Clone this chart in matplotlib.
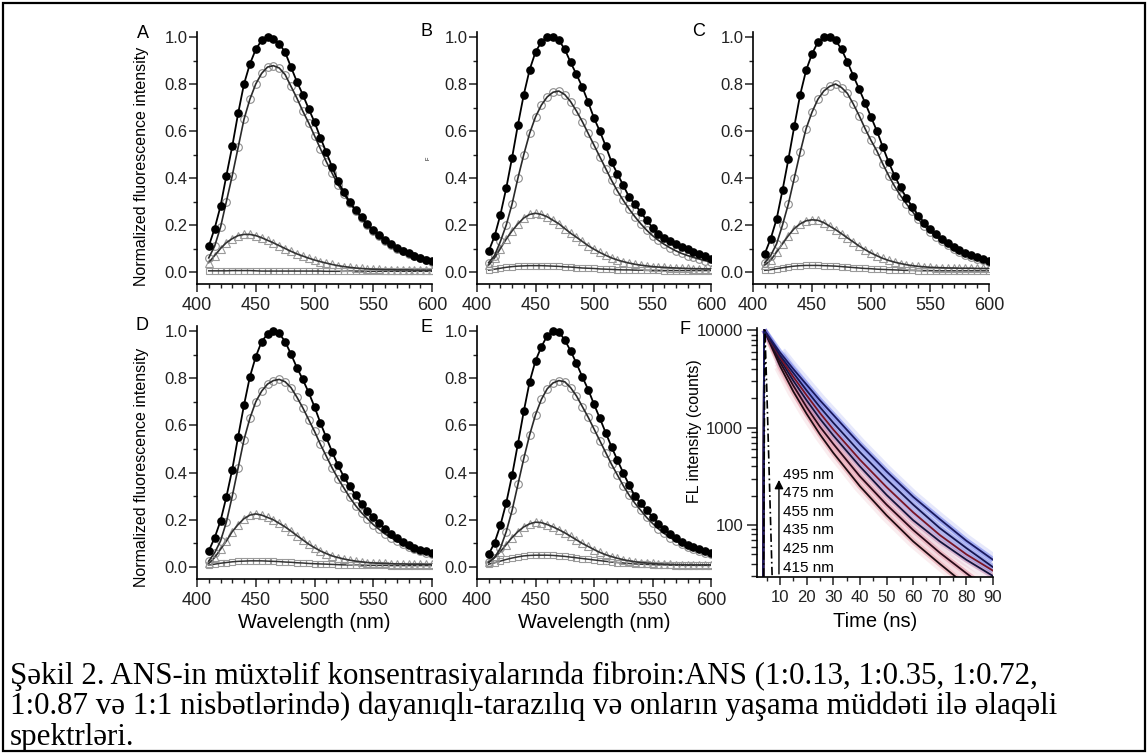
import numpy as np
import matplotlib
matplotlib.use("Agg")
import matplotlib.pyplot as plt
from matplotlib.ticker import MultipleLocator, FixedLocator, FixedFormatter, NullFormatter
from matplotlib.patches import Rectangle

W, H = 1147, 753

# ---- steady-state spectra (normalized), 410..600 nm every 5 nm ----
wavelength = np.arange(410, 601, 5)

a_filled = [0.11, 0.185, 0.28, 0.41, 0.535, 0.675, 0.80, 0.885, 0.947, 0.986, 1.00, 0.993, 0.972, 0.935, 0.872, 0.81, 0.755, 0.695, 0.638, 0.572,
            0.51, 0.447, 0.386, 0.34, 0.298, 0.265, 0.234, 0.203, 0.177, 0.158, 0.138, 0.12, 0.102, 0.09, 0.079, 0.069, 0.06, 0.052, 0.045]
a_open = [0.06, 0.11, 0.19, 0.30, 0.41, 0.53, 0.65, 0.735, 0.80, 0.845, 0.872, 0.878, 0.868, 0.84, 0.79, 0.74, 0.685, 0.635, 0.58, 0.525,
          0.47, 0.42, 0.372, 0.332, 0.293, 0.26, 0.23, 0.2, 0.174, 0.153, 0.133, 0.115, 0.1, 0.088, 0.077, 0.067, 0.058, 0.05, 0.044]
a_tri = [0.04, 0.07, 0.10, 0.125, 0.142, 0.155, 0.16, 0.16, 0.155, 0.146, 0.135, 0.124, 0.112, 0.10, 0.088, 0.077, 0.068, 0.059, 0.051, 0.044,
         0.038, 0.032, 0.027, 0.023, 0.02, 0.017, 0.015, 0.013, 0.012, 0.011, 0.01, 0.01, 0.009, 0.009, 0.009, 0.008, 0.008, 0.008, 0.008]
a_sq = [0.005, 0.005, 0.005, 0.005, 0.006, 0.006, 0.006, 0.006, 0.005, 0.004, 0.004, 0.004, 0.004, 0.004, 0.004, 0.004, 0.004, 0.004, 0.004, 0.004,
        0.003, 0.003, 0.003, 0.003, 0.004, 0.004, 0.004, 0.003, 0.003, 0.003, 0.003, 0.003, 0.003, 0.003, 0.003, 0.003, 0.003, 0.003, 0.003]

b_filled = [0.089, 0.152, 0.244, 0.357, 0.487, 0.627, 0.755, 0.861, 0.936, 0.979, 1.0, 1.0, 0.986, 0.948, 0.892, 0.841, 0.787, 0.723, 0.655, 0.599,
            0.536, 0.468, 0.418, 0.369, 0.319, 0.288, 0.254, 0.220, 0.189, 0.163, 0.145, 0.132, 0.118, 0.106, 0.096, 0.085, 0.075, 0.067, 0.057]
b_open = [0.04, 0.07, 0.13, 0.20, 0.29, 0.40, 0.50, 0.59, 0.66, 0.71, 0.745, 0.765, 0.77, 0.755, 0.725, 0.685, 0.64, 0.59, 0.54, 0.49,
          0.44, 0.39, 0.345, 0.305, 0.268, 0.235, 0.205, 0.178, 0.155, 0.135, 0.118, 0.103, 0.09, 0.079, 0.07, 0.062, 0.055, 0.048, 0.043]
b_tri = [0.03, 0.06, 0.10, 0.14, 0.175, 0.205, 0.23, 0.245, 0.25, 0.245, 0.235, 0.22, 0.205, 0.185, 0.165, 0.148, 0.13, 0.112, 0.097, 0.083,
         0.071, 0.06, 0.051, 0.044, 0.038, 0.033, 0.029, 0.026, 0.023, 0.021, 0.02, 0.018, 0.017, 0.016, 0.015, 0.014, 0.014, 0.013, 0.013]
b_sq = [0.008, 0.012, 0.016, 0.02, 0.023, 0.025, 0.026, 0.027, 0.027, 0.027, 0.026, 0.025, 0.024, 0.022, 0.021, 0.019, 0.017, 0.016, 0.015, 0.013,
        0.012, 0.011, 0.01, 0.009, 0.009, 0.008, 0.008, 0.007, 0.007, 0.007, 0.006, 0.006, 0.006, 0.006, 0.006, 0.006, 0.006, 0.006, 0.006]

c_filled = [0.078, 0.142, 0.225, 0.348, 0.48, 0.62, 0.755, 0.858, 0.928, 0.978, 0.998, 1.0, 0.986, 0.948, 0.894, 0.835, 0.778, 0.72, 0.66, 0.6,
            0.532, 0.467, 0.41, 0.36, 0.315, 0.277, 0.24, 0.21, 0.184, 0.163, 0.14, 0.122, 0.106, 0.093, 0.082, 0.071, 0.062, 0.054, 0.047]
c_open = [0.04, 0.07, 0.12, 0.20, 0.29, 0.40, 0.51, 0.61, 0.68, 0.735, 0.77, 0.79, 0.80, 0.785, 0.76, 0.715, 0.665, 0.61, 0.56, 0.515,
          0.46, 0.41, 0.365, 0.325, 0.29, 0.258, 0.225, 0.197, 0.172, 0.151, 0.13, 0.113, 0.098, 0.085, 0.074, 0.064, 0.056, 0.049, 0.043]
c_tri = [0.03, 0.05, 0.085, 0.12, 0.155, 0.185, 0.205, 0.218, 0.222, 0.22, 0.21, 0.195, 0.18, 0.163, 0.145, 0.128, 0.11, 0.095, 0.081, 0.069,
         0.058, 0.049, 0.042, 0.036, 0.031, 0.027, 0.024, 0.022, 0.02, 0.019, 0.018, 0.017, 0.017, 0.016, 0.016, 0.016, 0.015, 0.015, 0.015]
c_sq = [0.007, 0.01, 0.014, 0.018, 0.022, 0.025, 0.027, 0.028, 0.028, 0.028, 0.027, 0.026, 0.025, 0.023, 0.021, 0.019, 0.017, 0.015, 0.014, 0.012,
        0.011, 0.01, 0.009, 0.008, 0.007, 0.007, 0.006, 0.006, 0.006, 0.005, 0.005, 0.005, 0.005, 0.005, 0.005, 0.005, 0.005, 0.005, 0.005]

d_filled = [0.068, 0.124, 0.195, 0.297, 0.413, 0.552, 0.686, 0.806, 0.891, 0.955, 0.987, 1.0, 0.99, 0.955, 0.902, 0.845, 0.795, 0.74, 0.679, 0.611,
            0.549, 0.488, 0.431, 0.382, 0.342, 0.304, 0.269, 0.238, 0.212, 0.187, 0.16, 0.14, 0.122, 0.106, 0.093, 0.082, 0.073, 0.066, 0.06]
d_open = [0.025, 0.06, 0.11, 0.19, 0.30, 0.42, 0.54, 0.63, 0.70, 0.745, 0.775, 0.79, 0.795, 0.785, 0.76, 0.72, 0.675, 0.625, 0.575, 0.52,
          0.47, 0.42, 0.375, 0.335, 0.295, 0.26, 0.23, 0.205, 0.18, 0.16, 0.14, 0.125, 0.11, 0.097, 0.086, 0.076, 0.068, 0.06, 0.055]
d_tri = [0.015, 0.04, 0.075, 0.11, 0.15, 0.18, 0.205, 0.22, 0.225, 0.22, 0.21, 0.2, 0.185, 0.17, 0.152, 0.133, 0.115, 0.097, 0.082, 0.068,
         0.057, 0.047, 0.04, 0.034, 0.029, 0.025, 0.022, 0.019, 0.017, 0.016, 0.015, 0.014, 0.013, 0.013, 0.012, 0.012, 0.012, 0.011, 0.011]
d_sq = [0.008, 0.012, 0.016, 0.019, 0.022, 0.024, 0.025, 0.026, 0.026, 0.026, 0.025, 0.024, 0.023, 0.021, 0.02, 0.018, 0.017, 0.015, 0.014, 0.013,
        0.012, 0.011, 0.01, 0.009, 0.009, 0.008, 0.008, 0.007, 0.007, 0.007, 0.007, 0.006, 0.006, 0.006, 0.006, 0.006, 0.006, 0.006, 0.006]

e_filled = [0.054, 0.103, 0.177, 0.272, 0.389, 0.523, 0.66, 0.785, 0.874, 0.933, 0.98, 1.0, 0.997, 0.962, 0.916, 0.863, 0.806, 0.752, 0.69, 0.63,
            0.569, 0.509, 0.453, 0.399, 0.347, 0.30, 0.27, 0.24, 0.212, 0.184, 0.163, 0.141, 0.124, 0.106, 0.095, 0.085, 0.075, 0.068, 0.059]
e_open = [0.02, 0.04, 0.08, 0.15, 0.24, 0.35, 0.46, 0.56, 0.645, 0.71, 0.755, 0.78, 0.79, 0.785, 0.76, 0.725, 0.68, 0.635, 0.585, 0.535,
          0.485, 0.435, 0.39, 0.345, 0.305, 0.27, 0.24, 0.21, 0.185, 0.162, 0.142, 0.125, 0.11, 0.097, 0.086, 0.076, 0.068, 0.061, 0.055]
e_tri = [0.02, 0.04, 0.065, 0.095, 0.125, 0.15, 0.17, 0.183, 0.19, 0.188, 0.18, 0.17, 0.158, 0.145, 0.13, 0.115, 0.1, 0.087, 0.074, 0.062,
         0.052, 0.044, 0.037, 0.031, 0.026, 0.022, 0.019, 0.017, 0.015, 0.013, 0.012, 0.011, 0.01, 0.01, 0.009, 0.009, 0.009, 0.009, 0.009]
e_sq = [0.012, 0.018, 0.025, 0.032, 0.038, 0.043, 0.047, 0.049, 0.05, 0.05, 0.05, 0.049, 0.047, 0.045, 0.042, 0.039, 0.036, 0.033, 0.03, 0.027,
        0.024, 0.021, 0.019, 0.017, 0.015, 0.013, 0.012, 0.011, 0.01, 0.009, 0.009, 0.008, 0.008, 0.007, 0.007, 0.007, 0.007, 0.007, 0.007]

# ---- time-resolved decays (counts) ----
decay_time = [3.7, 4.0, 5, 10, 15, 20, 25, 30, 40, 50, 60, 70, 80, 90]
decay_415 = [20, 10000, 8700, 4270, 2340, 1380, 850, 550, 250, 126, 68, 40, 24, 15]
decay_425 = [20, 10000, 8800, 4680, 2690, 1620, 1020, 680, 316, 162, 89, 52, 32, 20]
decay_435 = [20, 10000, 8900, 5010, 3020, 1900, 1230, 830, 400, 204, 112, 68, 44, 30]
decay_455 = [20, 10000, 9000, 5250, 3310, 2140, 1410, 955, 468, 245, 135, 79, 50, 34]
decay_475 = [20, 10000, 9100, 5500, 3630, 2400, 1620, 1120, 560, 295, 162, 93, 58, 37]
decay_495 = [20, 10000, 9200, 5890, 3980, 2750, 1900, 1350, 676, 355, 195, 115, 69, 44]
irf_time = [3.8, 4.3, 5.0, 5.7, 6.4, 7.1]
irf_counts = [20, 10000, 2630, 560, 120, 26]
decay_labels = ["495 nm", "475 nm", "455 nm", "435 nm", "425 nm", "415 nm"]

caption = ["Şəkil 2. ANS-in müxtəlif konsentrasiyalarında fibroin:ANS (1:0.13, 1:0.35, 1:0.72,",
           "1:0.87 və 1:1 nisbətlərində) dayanıqlı-tarazılıq və onların yaşama müddəti ilə əlaqəli",
           "spektrləri."]

plt.rcParams['font.family'] = ['Liberation Sans', 'DejaVu Sans']

fig = plt.figure(figsize=(W / 100, H / 100), dpi=100)


def px_axes(left, top, right, bottom):
    return fig.add_axes([left / W, 1 - bottom / H, (right - left) / W, (bottom - top) / H])


def style(ax):
    ax.spines['top'].set_visible(False)
    ax.spines['right'].set_visible(False)
    ax.spines['left'].set_linewidth(1.2)
    ax.spines['bottom'].set_linewidth(1.2)
    ax.tick_params(which='major', direction='out', length=5.5, width=1.1, colors='#222222')
    ax.tick_params(which='minor', direction='out', length=3, width=1.0, colors='#222222')


def spectra(ax, filled, opn, tri, sq):
    style(ax)
    ax.plot(wavelength, sq, 's', ms=4.3, mfc='none', mec='#9a9a9a', mew=0.8)
    ax.plot(wavelength, sq, '-', color='#333333', lw=1.1)
    ax.plot(wavelength, tri, '^', ms=5.2, mfc='none', mec='#9a9a9a', mew=0.8)
    ax.plot(wavelength, tri, '-', color='#333333', lw=1.2)
    ax.plot(wavelength, opn, 'o', ms=5.5, mfc='none', mec='#8c8c8c', mew=0.8)
    ax.plot(wavelength, opn, '-', color='#2a2a2a', lw=1.2)
    ax.plot(wavelength, filled, 'o', ms=5.2, mfc='black', mec='black')
    ax.plot(wavelength, filled, '-', color='black', lw=1.3)
    ax.set_xlim(400, 600)
    ax.set_ylim(-0.05, 1.02)
    ax.xaxis.set_major_locator(MultipleLocator(50))
    ax.xaxis.set_minor_locator(MultipleLocator(10))
    ax.yaxis.set_major_locator(FixedLocator([0, 0.2, 0.4, 0.6, 0.8, 1.0]))
    ax.yaxis.set_major_formatter(FixedFormatter(['0.0', '0.2', '0.4', '0.6', '0.8', '1.0']))
    ax.yaxis.set_minor_locator(FixedLocator([0.1, 0.3, 0.5, 0.7, 0.9]))
    ax.tick_params(axis='x', labelsize=13, pad=4)
    ax.tick_params(axis='y', labelsize=12, pad=1.5)


row1 = (32.3, 283.75)
row2 = (326.3, 578.8)

ax_a = px_axes(197, row1[0], 432, row1[1])
ax_b = px_axes(477, row1[0], 711, row1[1])
ax_c = px_axes(753, row1[0], 989, row1[1])
ax_d = px_axes(197, row2[0], 432, row2[1])
ax_e = px_axes(477, row2[0], 711, row2[1])
ax_f = px_axes(757, 328, 993, 577)

spectra(ax_a, a_filled, a_open, a_tri, a_sq)
spectra(ax_b, b_filled, b_open, b_tri, b_sq)
spectra(ax_c, c_filled, c_open, c_tri, c_sq)
spectra(ax_d, d_filled, d_open, d_tri, d_sq)
spectra(ax_e, e_filled, e_open, e_tri, e_sq)

for ax, y in [(ax_a, 0.465), (ax_d, 0.44)]:
    ax.set_ylabel('Normalized fluorescence intensity', fontsize=11.5)
    ax.yaxis.set_label_coords(-0.205, y)
ax_b.set_ylabel('F', fontsize=4)
ax_b.yaxis.set_label_coords(-0.2, 0.5)

for ax in (ax_d, ax_e):
    ax.set_xlabel('Wavelength (nm)', fontsize=14.5)
    ax.xaxis.set_label_coords(0.5, -0.135)

# ---- panel F ----
style(ax_f)
decays = [decay_415, decay_425, decay_435, decay_455, decay_475, decay_495]
cloud_cols = ['#e48a98', '#dc7a92', '#c07aa8', '#8a86d8', '#7c86e4', '#5a6aea']
fit_cols = ['#1e0c12', '#2a0a18', '#14143c', '#7a1424', '#161650', '#1a1a60']
for vals, cc in zip(decays, cloud_cols):
    ax_f.plot(decay_time[3:], vals[3:], '-', color=cc, lw=9, alpha=0.15, solid_capstyle='butt')
    ax_f.plot(decay_time[1:], vals[1:], '-', color=cc, lw=4, alpha=0.45, solid_capstyle='butt')
for vals, fc in zip(decays, fit_cols):
    ax_f.plot(decay_time, vals, '-', color=fc, lw=1.3)
ax_f.plot(irf_time, irf_counts, linestyle=(0, (5, 2, 1, 2)), color='black', lw=1.2)
ax_f.set_yscale('log')
ax_f.set_xlim(1.35, 90)
ax_f.set_ylim(29.3, 10500)
ax_f.xaxis.set_major_locator(MultipleLocator(10))
ax_f.xaxis.set_minor_locator(MultipleLocator(5))
ax_f.yaxis.set_major_locator(FixedLocator([100, 1000, 10000]))
ax_f.yaxis.set_major_formatter(FixedFormatter(['100', '1000', '10000']))
minor_y = [m * d for d in (10, 100, 1000) for m in range(2, 10)]
ax_f.yaxis.set_minor_locator(FixedLocator(minor_y))
ax_f.yaxis.set_minor_formatter(NullFormatter())
ax_f.tick_params(axis='x', labelsize=12, pad=4)
ax_f.tick_params(axis='y', which='major', labelsize=12, pad=3, length=7)
ax_f.tick_params(axis='y', which='minor', length=4)
ax_f.set_xlabel('Time (ns)', fontsize=14.5)
ax_f.xaxis.set_label_coords(0.5, -0.14)
ax_f.set_ylabel('FL intensity (counts)', fontsize=11.5)
ax_f.yaxis.set_label_coords(-0.233, 0.585)

ax_f.annotate('', xy=(9.6, 310), xytext=(9.6, 29.5),
              arrowprops=dict(arrowstyle='-|>', color='black', lw=1.0, mutation_scale=13))
label_y = [326, 213, 136, 89, 57, 36]
for txt, yv in zip(decay_labels, label_y):
    ax_f.text(11.2, yv, txt, fontsize=11, va='center', ha='left')

# ---- panel letters ----
for letter, x, y in [('A', 142.5, 34), ('B', 426, 31), ('C', 698.5, 31),
                     ('D', 142, 325), ('E', 426.5, 327.5), ('F', 685, 329)]:
    fig.text(x / W, 1 - y / H, letter, fontsize=13, ha='center', va='center')

# ---- caption ----
for i, line in enumerate(caption):
    fig.text(10 / W, 1 - (676 + 30.5 * i) / H, line, fontsize=22.3,
             family=['Liberation Serif', 'DejaVu Serif'], ha='left', va='center')

fig.add_artist(Rectangle((2.5 / W, 2.5 / H), (1145 - 2.5) / W, (750.5 - 2.5) / H,
                         transform=fig.transFigure, fill=False, lw=1.6, ec='black'))

fig.savefig('out.png', dpi=100)
